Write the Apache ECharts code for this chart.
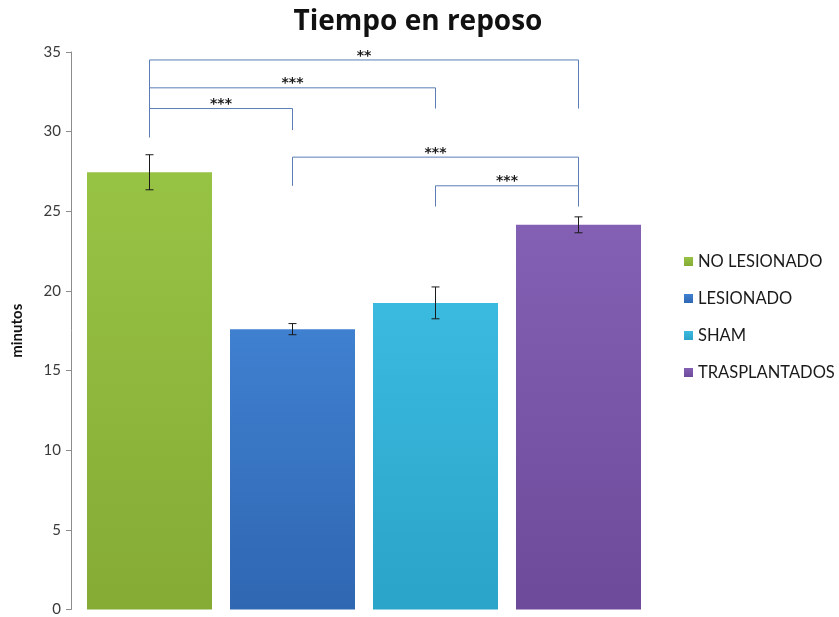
<!DOCTYPE html>
<html>
<head>
<meta charset="utf-8">
<script src="https://cdn.jsdelivr.net/npm/echarts@6/dist/echarts.min.js"></script>
<style>
  html, body { margin: 0; padding: 0; background: #ffffff; }
  #chart { width: 839px; height: 617px; }
</style>
</head>
<body>
<div id="chart"></div>
<script>
// Groups and their mean resting time (minutes) with error (half-height of the bar)
const categories = ['NO LESIONADO', 'LESIONADO', 'SHAM', 'TRASPLANTADOS'];
const means = [27.45, 17.6, 19.25, 24.15];
const errors = [1.1, 0.35, 1.0, 0.5];
const yTickMin = 0;
const yTickMax = 35;
const yTickStep = 5;

// Significance brackets: [from group, to group, bracket level, left foot, right foot, label]
const brackets = [
  [0, 3, 34.5, 29.65, 31.45, '**'],
  [0, 2, 32.75, 29.65, 31.45, '***'],
  [0, 1, 31.45, 29.65, 30.1, '***'],
  [1, 3, 28.4, 26.6, 26.6, '***'],
  [2, 3, 26.6, 25.3, 25.3, '***']
];

const palette = [
  ['#97c344', '#85ab35'],
  ['#3f80d0', '#2f67b2'],
  ['#3bbadf', '#2aa4c8'],
  ['#8360b3', '#6e4a9a']
];

const chart = echarts.init(document.getElementById('chart'), null, { renderer: 'canvas' });

const barSeries = categories.map((name, i) => ({
  name: name,
  type: 'bar',
  barWidth: 125,
  barGap: '-100%',
  data: categories.map((c, j) => (j === i ? means[j] : '-')),
  itemStyle: {
    color: new echarts.graphic.LinearGradient(0, 0, 0, 1, [
      { offset: 0, color: palette[i][0] },
      { offset: 1, color: palette[i][1] }
    ])
  },
  z: 2
}));

const errorSeries = {
  type: 'custom',
  name: 'error',
  data: means.map((m, i) => [i, m - errors[i], m + errors[i]]),
  encode: { x: 0, y: [1, 2] },
  z: 5,
  silent: true,
  renderItem: function (params, api) {
    const lo = api.coord([api.value(0), api.value(1)]);
    const hi = api.coord([api.value(0), api.value(2)]);
    const cap = 4;
    const style = { stroke: '#1a1a1a', lineWidth: 1 };
    return {
      type: 'group',
      children: [
        { type: 'line', shape: { x1: lo[0], y1: lo[1], x2: hi[0], y2: hi[1] }, style: style },
        { type: 'line', shape: { x1: lo[0] - cap, y1: lo[1], x2: lo[0] + cap, y2: lo[1] }, style: style },
        { type: 'line', shape: { x1: hi[0] - cap, y1: hi[1], x2: hi[0] + cap, y2: hi[1] }, style: style }
      ]
    };
  }
};

const bracketSeries = {
  type: 'custom',
  name: 'signif',
  data: brackets.map(b => [b[0], b[1], b[2], b[3], b[4]]),
  encode: { x: [0, 1], y: [2, 3, 4] },
  z: 4,
  silent: true,
  renderItem: function (params, api) {
    const b = brackets[params.dataIndex];
    const pl = api.coord([b[0], b[2]]);
    const pr = api.coord([b[1], b[2]]);
    const fl = api.coord([b[0], b[3]]);
    const fr = api.coord([b[1], b[4]]);
    return {
      type: 'group',
      children: [
        {
          type: 'polyline',
          shape: { points: [[fl[0], fl[1]], [pl[0], pl[1]], [pr[0], pr[1]], [fr[0], fr[1]]] },
          style: { stroke: '#5b7db4', lineWidth: 1, fill: null }
        },
        {
          type: 'text',
          x: (pl[0] + pr[0]) / 2,
          y: pl[1] + 3,
          style: {
            text: b[5],
            fill: '#1a1a1a',
            font: 'bold 14px "DejaVu Sans"',
            align: 'center',
            verticalAlign: 'bottom'
          }
        }
      ]
    };
  }
};

chart.setOption({
  animation: false,
  backgroundColor: '#ffffff',
  title: {
    text: 'Tiempo en reposo',
    left: 413,
    textAlign: 'center',
    top: 3,
    textStyle: { fontFamily: 'Open Sans', fontWeight: 'bold', fontSize: 28, color: '#111111' }
  },
  legend: {
    data: categories,
    orient: 'vertical',
    left: 679,
    top: 248,
    itemWidth: 9,
    itemHeight: 9,
    itemGap: 20,
    icon: 'rect',
    textStyle: { fontFamily: 'Lato', fontSize: 16.5, color: '#1a1a1a', padding: [0, 0, 0, 0] }
  },
  grid: { left: 78, top: 52, width: 572, height: 558, containLabel: false },
  xAxis: {
    type: 'category',
    data: categories,
    axisLine: { show: false },
    axisTick: { show: false },
    axisLabel: { show: false },
    splitLine: { show: false }
  },
  yAxis: {
    type: 'value',
    min: yTickMin,
    max: yTickMax,
    interval: yTickStep,
    offset: 7,
    name: 'minutos',
    nameLocation: 'middle',
    nameGap: 46,
    nameRotate: 90,
    nameTextStyle: { fontFamily: 'Lato', fontWeight: 'bold', fontSize: 15, color: '#111111' },
    axisLine: { show: true, lineStyle: { color: '#8c8c8c', width: 1 } },
    axisTick: { show: true, length: 5, lineStyle: { color: '#8c8c8c' } },
    axisLabel: { fontFamily: 'Lato', fontSize: 15, color: '#3a3a3a', margin: 10 },
    splitLine: { show: false }
  },
  series: barSeries.concat([errorSeries, bracketSeries])
});
</script>
</body>
</html>
